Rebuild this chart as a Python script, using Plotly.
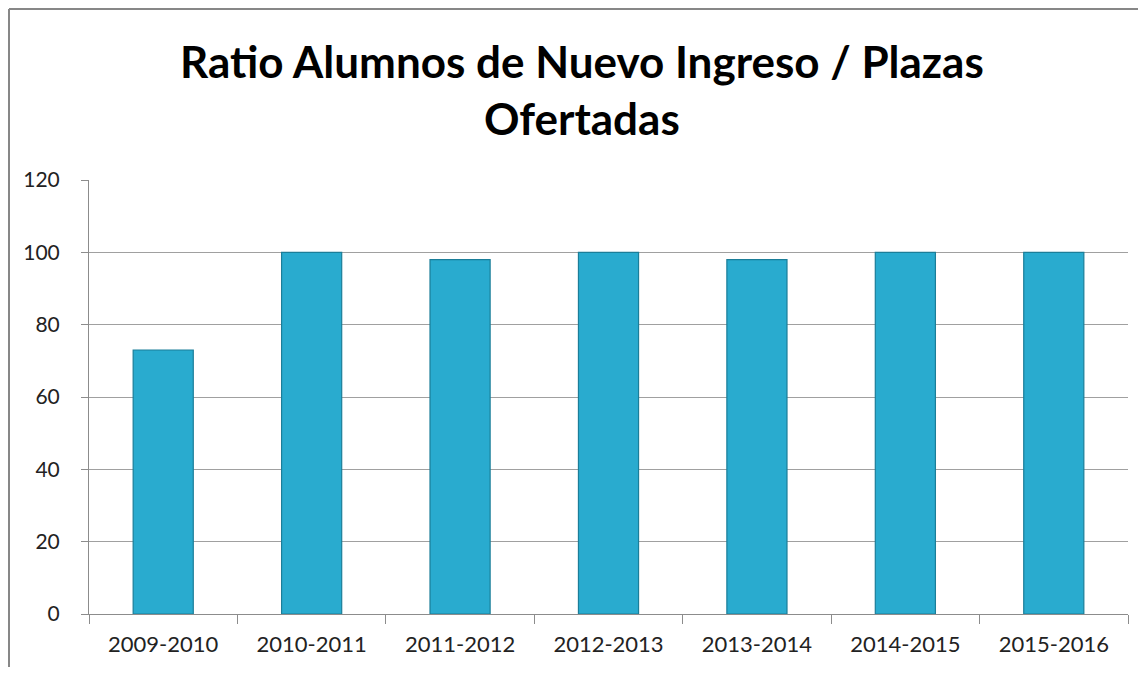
import plotly.graph_objects as go

categories = ["2009-2010", "2010-2011", "2011-2012", "2012-2013", "2013-2014", "2014-2015", "2015-2016"]
values = [73, 100, 98, 100, 98, 100, 100]
y_ticks = [0, 20, 40, 60, 80, 100, 120]

# page has an 8px body margin on every side; keep the figure inside the window
OFF = 8
W, H = 1146 - 2 * OFF, 675 - 2 * OFF
PLOT_L, PLOT_R, PLOT_T, PLOT_B = 89, 1128, 180, 614   # page pixels
ml = PLOT_L - OFF
mr = W - (PLOT_R - OFF)
mt = PLOT_T - OFF
mb = H - (PLOT_B - OFF)
pw, ph = W - ml - mr, H - mt - mb


def px_x(p):
    return (p - OFF - ml) / pw


def px_y(p):
    return (PLOT_B - p) / ph


fig = go.Figure()
fig.add_trace(go.Bar(
    x=categories, y=values, width=0.405,
    marker=dict(color="#29ABCF", line=dict(color="#1B7E99", width=1.2)),
))

# chart-area border: top and left edges only (others fall outside the window)
fig.add_shape(type="line", xref="paper", yref="paper",
              x0=px_x(OFF + 1), x1=px_x(OFF + W), y0=px_y(9), y1=px_y(9),
              line=dict(color="#878787", width=2), layer="above")
fig.add_shape(type="line", xref="paper", yref="paper",
              x0=px_x(OFF + 1), x1=px_x(OFF + 1), y0=px_y(9), y1=px_y(OFF + H),
              line=dict(color="#878787", width=2), layer="above")

fig.add_annotation(
    text="<b>Ratio Alumnos de Nuevo Ingreso / Plazas<br>Ofertadas</b>",
    xref="paper", yref="paper", x=px_x(582), y=px_y(90),
    xanchor="center", yanchor="middle", showarrow=False, align="center",
    font=dict(size=44, color="#000000", family="Lato, sans-serif"),
)

fig.update_layout(
    width=W, height=H,
    margin=dict(l=ml, r=mr, t=mt, b=mb, pad=0),
    paper_bgcolor="white", plot_bgcolor="white",
    font=dict(family="Lato, 'Open Sans', sans-serif", color="#222222"),
    showlegend=False,
    xaxis=dict(showgrid=False, showline=True, linecolor="#8C8C8C", linewidth=1,
               ticks="outside", tickson="boundaries", ticklen=9, tickcolor="#8C8C8C",
               tickfont=dict(size=22, color="#222222"), ticklabelstandoff=11),
    yaxis=dict(range=[0, 120], tickvals=y_ticks, showgrid=True, gridcolor="#A0A0A0", gridwidth=1,
               showline=True, linecolor="#8C8C8C", linewidth=1, zeroline=False,
               ticks="outside", ticklen=7, tickcolor="#8C8C8C",
               tickfont=dict(size=21, color="#222222"), ticklabelstandoff=17),
)

fig.write_html("out.html")
